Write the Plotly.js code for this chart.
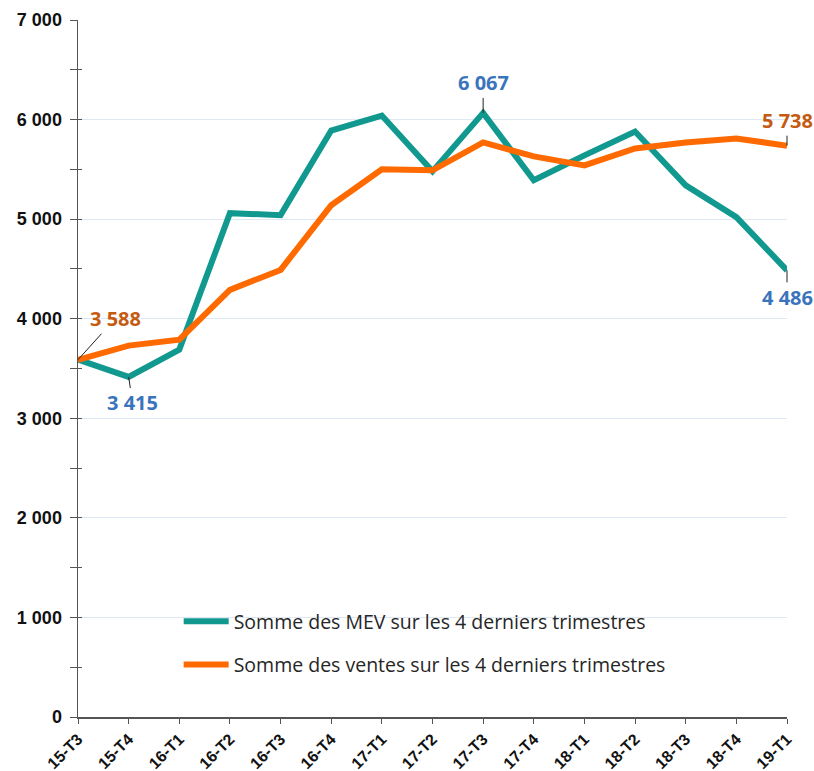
<!DOCTYPE html>
<html><head><meta charset="utf-8">
<script src="https://cdn.plot.ly/plotly-3.0.1.min.js"></script>
<style>html,body{margin:0;padding:0;background:#fff}#chart{width:814px;height:771px}</style>
</head><body><div id="chart"></div>
<script>
const categories = ["15-T3","15-T4","16-T1","16-T2","16-T3","16-T4","17-T1","17-T2","17-T3","17-T4","18-T1","18-T2","18-T3","18-T4","19-T1"];
const mevValues = [3590,3415,3690,5060,5040,5890,6040,5480,6067,5390,5640,5880,5340,5020,4486];
const ventesValues = [3588,3730,3790,4290,4490,5140,5500,5490,5770,5630,5540,5710,5770,5810,5738];
const seriesNames = ["Somme des MEV sur les 4 derniers trimestres","Somme des ventes sur les 4 derniers trimestres"];
const yTicks = [0,1000,2000,3000,4000,5000,6000,7000];

function fmt(v){return String(Math.round(v)).replace(/\B(?=(\d{3})+(?!\d))/g,' ');}

const teal = '#12998f', orange = '#ff6a00';
const blueLbl = '#3a74bd', orangeLbl = '#c55a11';

const traces = [
 {x:categories, y:mevValues, name:seriesNames[0], type:'scatter', mode:'lines', line:{color:teal,width:6}, legendgroup:'a', cliponaxis:false},
 {x:categories, y:ventesValues, name:seriesNames[1], type:'scatter', mode:'lines', line:{color:orange,width:6}, legendgroup:'b', cliponaxis:false},
 {x:categories, y:mevValues, yaxis:'y2', type:'scatter', mode:'none', showlegend:false, hoverinfo:'skip'}
];

function ann(i, arr, ax, ay, col){
 return {x:categories[i], y:arr[i], text:'<b>'+fmt(arr[i])+'</b>', showarrow:true, arrowhead:0, arrowwidth:1,
  arrowcolor:'#222', ax:ax, ay:ay, standoff:0, font:{family:'Open Sans', size:20, color:col}};
}
const last = categories.length-1;
const annotations = [
 ann(0, ventesValues, 37, -41, orangeLbl),
 ann(1, mevValues, 4, 26, blueLbl),
 ann(8, mevValues, 0, -30, blueLbl),
 ann(last, ventesValues, 0, -25, orangeLbl),
 ann(last, mevValues, 0, 27, blueLbl)
];

const layout = {
 width:814, height:771,
 margin:{l:78, r:27, t:20, b:54},
 paper_bgcolor:'#fff', plot_bgcolor:'#fff',
 separators:', ',
 showlegend:true,
 legend:{x:0.142, y:0.165, xanchor:'left', yanchor:'top', traceorder:'grouped', tracegroupgap:15,
   font:{family:'Open Sans', size:19.5, color:'#262626'}, bgcolor:'rgba(255,255,255,0)', itemwidth:45},
 xaxis:{type:'category', range:[0,last], tickangle:-45, ticks:'outside', ticklen:5, tickcolor:'#555',
   showline:true, linecolor:'#555', linewidth:1.5, showgrid:false, zeroline:false, ticklabelstandoff:0,
   tickfont:{family:'Liberation Sans, Arial', size:16, color:'#111', weight:'bold'}},
 yaxis:{range:[0,7000], tickvals:yTicks, ticktext:yTicks.map(fmt), ticks:'outside', ticklen:7, tickcolor:'#555',
   minor:{dtick:500, tick0:0, ticks:'outside', ticklen:7, tickcolor:'#555', showgrid:false},
   showline:true, linecolor:'#555', linewidth:1.5, showgrid:true, gridcolor:'#dde8f4', gridwidth:1, zeroline:false,
   tickfont:{family:'Liberation Sans, Arial', size:18, color:'#111', weight:'bold'}, ticklabelstandoff:4},
 yaxis2:{range:[0,7000], overlaying:'y', side:'left', dtick:500, tick0:0, ticks:'inside', ticklen:4, tickcolor:'#555',
   showticklabels:false, showgrid:false, zeroline:false, showline:false},
 annotations:annotations
};
Plotly.newPlot('chart', traces, layout, {displayModeBar:false, staticPlot:true});
</script></body></html>
